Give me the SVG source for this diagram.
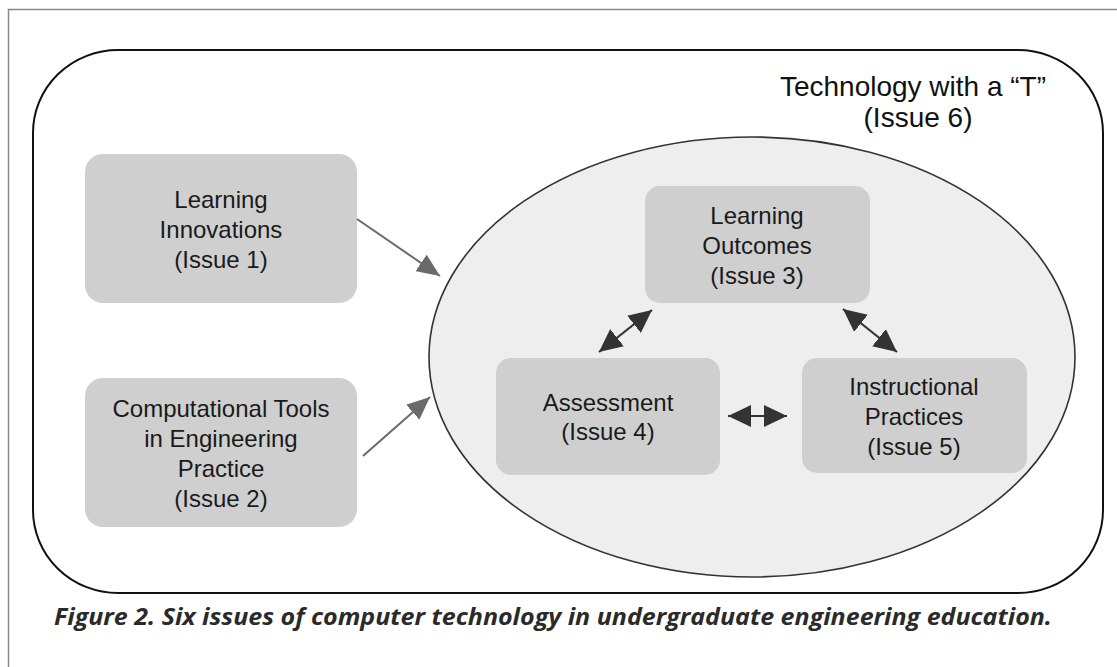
<svg xmlns="http://www.w3.org/2000/svg" width="1117" height="667" viewBox="0 0 1117 667">
<style>
.node{fill:#cfcfcf;stroke:none}
.lbl{font-family:"Liberation Sans",Arial,sans-serif;font-size:24px;fill:#1a1a1a;text-anchor:middle}
.big{font-family:"Liberation Sans",Arial,sans-serif;font-size:28px;fill:#111;text-anchor:middle}
.cap{font-family:"Open Sans","Lato",sans-serif;font-size:24px;font-weight:700;font-style:italic;fill:#2a2a2a}
.in{stroke:#6a6a6a;stroke-width:2;fill:none}
.bi{stroke:#333;stroke-width:2.2;fill:none}
</style>
<defs>
<marker id="ag" markerUnits="userSpaceOnUse" markerWidth="24" markerHeight="20" refX="23" refY="10" orient="auto">
<path d="M0,0 L23,10 L0,20 z" fill="#6a6a6a"/>
</marker>
<marker id="ad" markerUnits="userSpaceOnUse" markerWidth="24" markerHeight="22" refX="23" refY="11" orient="auto-start-reverse">
<path d="M0,0 L23,11 L0,22 z" fill="#333"/>
</marker>
</defs>
<rect x="8.5" y="9.5" width="1120" height="670" fill="none" stroke="#888" stroke-width="1.5"/>
<g id="tech">
<rect x="33" y="50" width="1070" height="543" rx="85" ry="83" fill="#fff" stroke="#111" stroke-width="2"/>
<text class="big" x="913" y="96">Technology with a “T”</text>
<text class="big" x="918" y="127">(Issue 6)</text>
</g>
<g id="ellipse">
<ellipse cx="752" cy="357" rx="323" ry="220" fill="#eeeeee" stroke="#333" stroke-width="1.6"/>
</g>
<g id="n1">
<rect class="node" x="85" y="154" width="272" height="149" rx="18"/>
<text class="lbl" x="221" y="208">Learning</text>
<text class="lbl" x="221" y="238">Innovations</text>
<text class="lbl" x="221" y="268">(Issue 1)</text>
</g>
<g id="n2">
<rect class="node" x="85" y="378" width="272" height="149" rx="18"/>
<text class="lbl" x="221" y="417">Computational Tools</text>
<text class="lbl" x="221" y="447">in Engineering</text>
<text class="lbl" x="221" y="477">Practice</text>
<text class="lbl" x="221" y="507">(Issue 2)</text>
</g>
<g id="n3">
<rect class="node" x="645" y="186" width="225" height="117" rx="15"/>
<text class="lbl" x="757" y="224">Learning</text>
<text class="lbl" x="757" y="254">Outcomes</text>
<text class="lbl" x="757" y="284">(Issue 3)</text>
</g>
<g id="n4">
<rect class="node" x="496" y="358" width="224" height="117" rx="15"/>
<text class="lbl" x="608" y="411">Assessment</text>
<text class="lbl" x="608" y="440">(Issue 4)</text>
</g>
<g id="n5">
<rect class="node" x="802" y="358" width="225" height="115" rx="15"/>
<text class="lbl" x="914" y="395">Instructional</text>
<text class="lbl" x="914" y="425">Practices</text>
<text class="lbl" x="914" y="455">(Issue 5)</text>
</g>
<g id="connectors">
<line class="in" x1="357" y1="219" x2="440" y2="276" marker-end="url(#ag)"/>
<line class="in" x1="363" y1="456" x2="430" y2="397" marker-end="url(#ag)"/>
<line class="bi" x1="652" y1="310" x2="599" y2="352" marker-start="url(#ad)" marker-end="url(#ad)"/>
<line class="bi" x1="728" y1="416" x2="787" y2="416" marker-start="url(#ad)" marker-end="url(#ad)"/>
<line class="bi" x1="843" y1="309" x2="897" y2="352" marker-start="url(#ad)" marker-end="url(#ad)"/>
</g>
<text class="cap" x="54" y="625" textLength="998" lengthAdjust="spacingAndGlyphs">Figure 2. Six issues of computer technology in undergraduate engineering education.</text>
</svg>
